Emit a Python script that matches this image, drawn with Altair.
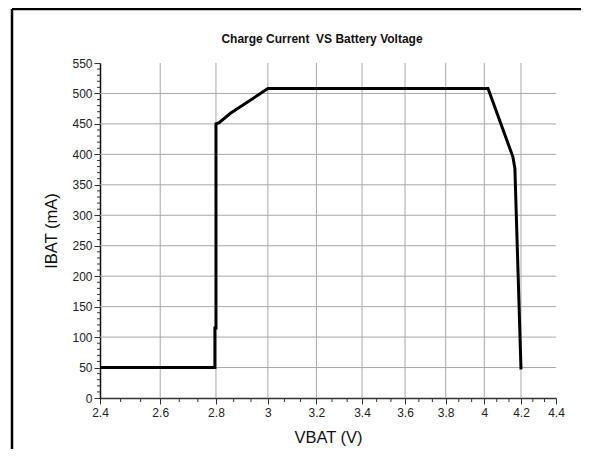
import altair as alt
import pandas as pd

# curve data
vbat = [2.4, 2.796, 2.796, 2.8, 2.8, 2.812, 2.853, 3.0, 4.02, 4.155, 4.166, 4.2]
ibat = [50, 50, 115, 115, 450, 452, 467, 508, 508, 396, 377, 47]

x_ticks = [2.4, 2.6, 2.8, 3.0, 3.2, 3.4, 3.6, 3.8, 4.0, 4.2, 4.4]
x_grid = [2.6, 2.8, 3.0, 3.2, 3.4, 3.6, 3.8, 4.0, 4.2]
x_minor = [2.4667, 2.5333, 2.6667, 2.7333, 2.8667, 2.9333, 3.0667, 3.1333,
           3.2667, 3.3333, 3.4667, 3.5333, 3.6667, 3.7333, 3.8667, 3.9333,
           4.0667, 4.1333, 4.2667, 4.3333]
y_ticks = [0, 50, 100, 150, 200, 250, 300, 350, 400, 450, 500, 550]
y_grid = [50, 100, 150, 200, 250, 300, 350, 400, 450, 500]
y_minor = [v for v in range(10, 550, 10) if v % 50 != 0]
title_text = ["Charge Current\u00a0 VS Battery Voltage"]

W, H = 456, 335

curve = pd.DataFrame({"x": vbat, "y": ibat, "idx": list(range(len(vbat)))})
xg = pd.DataFrame({"x": x_grid})
yg = pd.DataFrame({"y": y_grid})
xm = pd.DataFrame({"x": x_minor})
ym = pd.DataFrame({"y": y_minor})
tt = pd.DataFrame({"t": title_text})

xscale = alt.Scale(type="log", domain=[2.4, 4.4], nice=False, zero=False)
yscale = alt.Scale(domain=[0, 550], nice=False, zero=True)

xaxis = alt.Axis(title="VBAT (V)", values=x_ticks, format="~g", grid=False,
                 tickSize=6, tickColor="#333", domainColor="#333", domainWidth=1.5,
                 labelFontSize=12, labelFont="Liberation Sans", labelColor="#222",
                 labelPadding=3, titleFontSize=16.5, titleFont="Liberation Sans",
                 titleFontWeight="normal", titleColor="#111", titlePadding=11,
                 labelFlush=False, labelOverlap=False)
yaxis = alt.Axis(title="IBAT (mA)", values=y_ticks, grid=False,
                 tickSize=6, tickColor="#333", domainColor="#111", domainWidth=1.5,
                 labelFontSize=12, labelFont="Liberation Sans", labelColor="#222",
                 labelPadding=2, titleFontSize=16.5, titleFont="Liberation Sans",
                 titleFontWeight="normal", titleColor="#111", titlePadding=12,
                 labelFlush=False, labelOverlap=False)

X = alt.X("x:Q", scale=xscale, axis=xaxis)
Y = alt.Y("y:Q", scale=yscale, axis=yaxis)

grid_color = "#a8a8a8"

vgrid = alt.Chart(xg).mark_rule(color=grid_color, strokeWidth=1).encode(
    x=X, y=alt.value(0), y2=alt.value(H))
hgrid = alt.Chart(yg).mark_rule(color=grid_color, strokeWidth=1).encode(
    y=Y, x=alt.value(0), x2=alt.value(W))
xminor = alt.Chart(xm).mark_rule(color="#333", strokeWidth=1).encode(
    x=X, y=alt.value(H), y2=alt.value(H + 4))
yminor = alt.Chart(ym).mark_rule(color="#333", strokeWidth=1).encode(
    y=Y, x=alt.value(-3), x2=alt.value(0))
line = alt.Chart(curve).mark_line(color="black", strokeWidth=3, strokeJoin="miter").encode(
    x=X, y=Y, order="idx:Q")

title = alt.Chart(tt).mark_text(font="Liberation Sans", fontSize=12, fontWeight="bold",
                                color="#111", baseline="middle", align="center").encode(
    text="t:N", x=alt.value(W / 2 - 6), y=alt.value(-24))

frame_left = alt.Chart(tt).mark_rule(color="black", strokeWidth=2.5).encode(
    x=alt.value(-88), y=alt.value(-54), y2=alt.value(H + 70))
frame_top = alt.Chart(tt).mark_rule(color="black", strokeWidth=2.5).encode(
    x=alt.value(-88), x2=alt.value(W + 60), y=alt.value(-54))

chart = alt.layer(vgrid, hgrid, xminor, yminor, line, title, frame_left, frame_top).properties(
    width=W, height=H,
    autosize=alt.AutoSizeParams(type="none"),
    padding={"left": 92, "top": 55, "right": 25, "bottom": 51},
).configure_view(stroke=None)

chart.save("out.html", embed_options={"renderer": "svg", "actions": False})
